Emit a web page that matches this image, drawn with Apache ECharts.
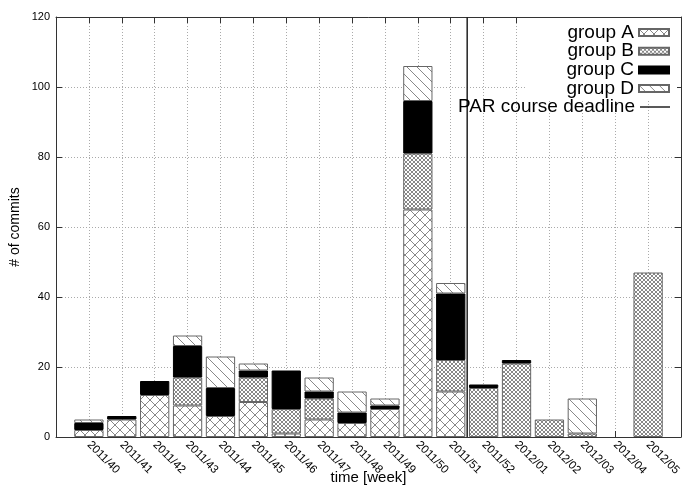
<!DOCTYPE html>
<html>
<head>
<meta charset="utf-8">
<title>Commits per week</title>
<script src="https://cdn.jsdelivr.net/npm/echarts@6/dist/echarts.min.js"></script>
<style>
  html, body { margin: 0; padding: 0; background: #fff; }
  #chart { width: 682px; height: 485px; }
</style>
</head>
<body>
<div id="chart"></div>
<script>
// Weekly commit counts per student group
const weeks = ['2011/40', '2011/41', '2011/42', '2011/43', '2011/44', '2011/45',
               '2011/46', '2011/47', '2011/48', '2011/49', '2011/50', '2011/51',
               '2011/52', '2012/01', '2012/02', '2012/03', '2012/04', '2012/05'];
const groupA = [2, 5, 12, 9, 6, 10, 1, 5, 4, 8, 65, 13, 0, 0, 0, 0, 0, 0];
const groupB = [0, 0, 0, 8, 0, 7, 7, 6, 0, 0, 16, 9, 14, 21, 5, 1, 0, 47];
const groupC = [2, 1, 4, 9, 8, 2, 11, 2, 3, 1, 15, 19, 1, 1, 0, 0, 0, 0];
const groupD = [1, 0, 0, 3, 9, 2, 0, 4, 6, 2, 10, 3, 0, 0, 0, 10, 0, 0];
// Course deadline falls between week 2011/51 (index 11) and 2011/52 (index 12)
const deadlineWeek = 11.5;
const yTickValues = [0, 20, 40, 60, 80, 100, 120];

const FONT = '"Liberation Sans", Arial, Helvetica, sans-serif';

// One empty slot on each side of the weeks gives the axis its margins
const xSlots = [''].concat(weeks, ['']);

// Repeating hatch tiles used as bar fills
function hatch(size, dirs, color, width) {
  const c = document.createElement('canvas');
  c.width = size; c.height = size;
  const g = c.getContext('2d');
  g.fillStyle = '#fff';
  g.fillRect(0, 0, size, size);
  g.strokeStyle = color;
  g.lineWidth = width;
  g.beginPath();
  for (let k = -1; k <= 1; k++) {
    if (dirs.indexOf('\\') >= 0) { g.moveTo(k * size, 0); g.lineTo(k * size + size, size); }
    if (dirs.indexOf('/') >= 0) { g.moveTo(k * size, size); g.lineTo(k * size + size, 0); }
  }
  g.stroke();
  return { image: c, repeat: 'repeat' };
}

const groups = [
  { name: 'group A', values: groupA, fill: hatch(10, '\\/', '#888', 1), border: '#666' },
  { name: 'group B', values: groupB, fill: hatch(4, '\\/', '#888', 1), border: '#666' },
  { name: 'group C', values: groupC, fill: '#000', border: '#000' },
  { name: 'group D', values: groupD, fill: hatch(10, '\\', '#888', 1), border: '#666' }
];

const barSeries = groups.map(g => ({
  name: g.name,
  type: 'bar',
  stack: 'commits',
  xAxisIndex: 0,
  barWidth: '89%',
  data: ['-'].concat(g.values.map(v => (v === 0 ? '-' : v)), ['-']),
  itemStyle: { color: g.fill, borderColor: g.border, borderWidth: 1 },
  emphasis: { disabled: true },
  silent: true
}));

const deadlineSeries = {
  name: 'PAR course deadline',
  type: 'line',
  xAxisIndex: 1,
  data: [[deadlineWeek, yTickValues[0]], [deadlineWeek, yTickValues[yTickValues.length - 1]]],
  symbol: 'none',
  lineStyle: { color: '#222', width: 1.5 },
  itemStyle: { color: '#222' },
  emphasis: { disabled: true },
  silent: true,
  z: 3
};

const axisColor = '#333';
const gridLine = { show: true, lineStyle: { color: '#aaa', width: 1, type: [1, 2] } };
const yStep = yTickValues[1] - yTickValues[0];
const legendText = { fontFamily: FONT, fontSize: 19, lineHeight: 19, color: '#000' };

const option = {
  animation: false,
  textStyle: { fontFamily: FONT, color: '#000' },
  grid: { left: 56, right: 1, top: 17, bottom: 48, containLabel: false, outerBoundsMode: 'none' },
  legend: [
    {
      orient: 'vertical', right: 5, top: 18, align: 'right',
      icon: 'rect', itemWidth: 30, itemHeight: 7, itemGap: -0.3,
      padding: [5, 7, 2, 41],
      backgroundColor: '#fff',
      selectedMode: false,
      data: ['group A', 'group B', 'group C', 'group D'],
      textStyle: legendText
    },
    {
      orient: 'vertical', right: 12, top: 97.5, align: 'right',
      icon: 'rect', itemWidth: 30, itemHeight: 1.5, padding: 0,
      selectedMode: false,
      data: ['PAR course deadline'],
      textStyle: legendText
    }
  ],
  xAxis: [
    {
      type: 'category', position: 'bottom', data: xSlots, boundaryGap: false,
      name: 'time [week]', nameLocation: 'middle', nameGap: 33, nameMoveOverlap: false,
      nameTextStyle: { fontFamily: FONT, fontSize: 15, color: '#000' },
      axisLine: { show: true, onZero: false, lineStyle: { color: axisColor, width: 1 } },
      axisTick: { show: true, inside: true, length: 6, interval: 0, lineStyle: { color: axisColor } },
      axisLabel: { rotate: -45, margin: 6, interval: 0, fontSize: 11.5, color: '#000', fontFamily: FONT },
      splitLine: Object.assign({ interval: 0 }, gridLine)
    },
    {
      type: 'value', position: 'top', min: -1, max: weeks.length, interval: 1,
      axisLine: { show: true, onZero: false, lineStyle: { color: axisColor, width: 1 } },
      axisTick: { show: true, inside: true, length: 6, lineStyle: { color: axisColor } },
      axisLabel: { show: false },
      splitLine: { show: false }
    }
  ],
  yAxis: [
    {
      type: 'value', position: 'left',
      min: yTickValues[0], max: yTickValues[yTickValues.length - 1], interval: yStep,
      name: '# of commits', nameLocation: 'middle', nameGap: 34, nameMoveOverlap: false,
      nameTextStyle: { fontFamily: FONT, fontSize: 14, color: '#000' },
      axisLine: { show: true, onZero: false, lineStyle: { color: axisColor, width: 1 } },
      axisTick: { show: true, inside: true, length: 6, lineStyle: { color: axisColor } },
      axisLabel: { margin: 6, fontSize: 11, color: '#000', fontFamily: FONT },
      splitLine: gridLine
    },
    {
      type: 'value', position: 'right',
      min: yTickValues[0], max: yTickValues[yTickValues.length - 1], interval: yStep,
      axisLine: { show: true, onZero: false, lineStyle: { color: axisColor, width: 1 } },
      axisTick: { show: true, inside: true, length: 6, lineStyle: { color: axisColor } },
      axisLabel: { show: false },
      splitLine: { show: false }
    }
  ],
  series: barSeries.concat([deadlineSeries])
};

const chart = echarts.init(document.getElementById('chart'), null, { renderer: 'canvas' });
chart.setOption(option);
</script>
</body>
</html>
